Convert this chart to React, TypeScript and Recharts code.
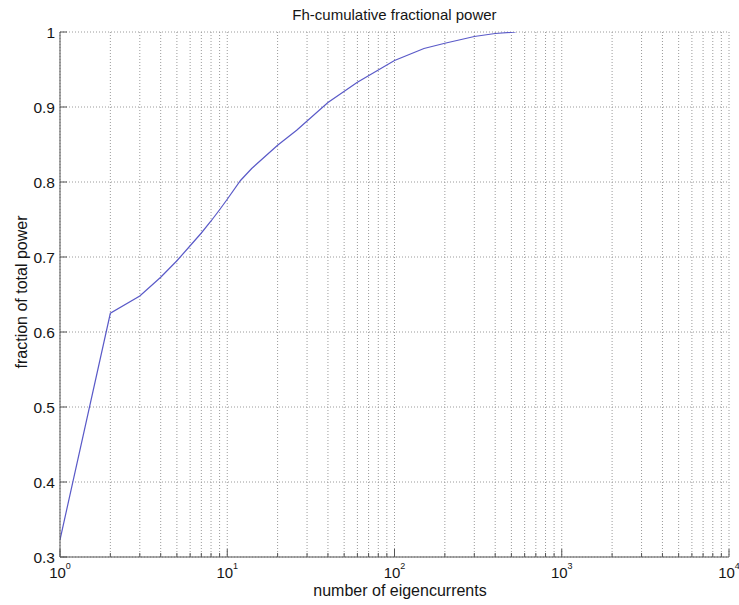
import React from 'react';
import { LineChart, Line, XAxis, YAxis, CartesianGrid } from 'recharts';

// number of eigencurrents
const counts = [1, 2, 3, 4, 5, 6, 7, 8, 9, 10, 12, 14, 20, 26, 40, 60, 100, 150, 200, 300, 400, 530];
// cumulative fraction of total power
const fractions = [0.323, 0.625, 0.648, 0.673, 0.695, 0.715, 0.732, 0.748, 0.763, 0.777, 0.802, 0.818, 0.849, 0.869, 0.906, 0.933, 0.962, 0.978, 0.985, 0.994, 0.998, 1.0];

const xTicks = [
  1, 2, 3, 4, 5, 6, 7, 8, 9,
  10, 20, 30, 40, 50, 60, 70, 80, 90,
  100, 200, 300, 400, 500, 600, 700, 800, 900,
  1000, 2000, 3000, 4000, 5000, 6000, 7000, 8000, 9000,
  10000,
];
const xMajorTicks = [1, 10, 100, 1000, 10000];
const xMajorExponents = ['0', '1', '2', '3', '4'];
const yTicks = [0.3, 0.4, 0.5, 0.6, 0.7, 0.8, 0.9, 1];
const yTickLabels = ['0.3', '0.4', '0.5', '0.6', '0.7', '0.8', '0.9', '1'];

const title = 'Fh-cumulative fractional power';
const xLabel = 'number of eigencurrents';
const yLabel = 'fraction of total power';

const data = counts.map((n, i) => ({ n, f: fractions[i] }));

const AXIS = '#555';
const GRID = '#9a9a9a';
const TEXT = '#151515';
const LINE = '#5a5ac8';
const FONT = '"Liberation Sans", Arial, Helvetica, sans-serif';

const majorIndex = (v: number) => xMajorTicks.findIndex((m) => Math.abs(m - v) < 1e-9);

const BottomTick = (props: any) => {
  const { x, y, payload } = props;
  const idx = majorIndex(payload.value);
  const major = idx >= 0;
  return (
    <g>
      <line x1={x} y1={y} x2={x} y2={y - (major ? 8 : 4)} stroke={AXIS} strokeWidth={1} />
      {major && (
        <text x={x} y={y + 21} textAnchor="middle" fontSize={15} fill={TEXT} fontFamily={FONT}>
          10
          <tspan dy={-9} fontSize={9}>{xMajorExponents[idx]}</tspan>
        </text>
      )}
    </g>
  );
};

const TopTick = (props: any) => {
  const { x, y, payload } = props;
  const major = majorIndex(payload.value) >= 0;
  return <line x1={x} y1={y} x2={x} y2={y + (major ? 8 : 4)} stroke={AXIS} strokeWidth={1} />;
};

const LeftTick = (props: any) => {
  const { x, y, payload } = props;
  const idx = yTicks.findIndex((t) => Math.abs(t - payload.value) < 1e-9);
  return (
    <g>
      <line x1={x} y1={y} x2={x + 7} y2={y} stroke={AXIS} strokeWidth={1} />
      <text x={x - 5} y={y + 5.5} textAnchor="end" fontSize={15.5} fill={TEXT} fontFamily={FONT}>
        {idx >= 0 ? yTickLabels[idx] : ''}
      </text>
    </g>
  );
};

const RightTick = (props: any) => {
  const { x, y } = props;
  return <line x1={x} y1={y} x2={x - 7} y2={y} stroke={AXIS} strokeWidth={1} />;
};

export default function App() {
  return (
    <div style={{ position: 'absolute', left: 0, top: 0, width: 739, height: 605, background: '#fff', fontFamily: FONT }}>
      <LineChart width={739} height={605} data={data} margin={{ top: 32, right: 10, bottom: 0, left: 0 }}>
        <CartesianGrid stroke={GRID} strokeDasharray="1 2" />
        <XAxis
          dataKey="n"
          type="number"
          scale="log"
          domain={[1, 10000]}
          allowDataOverflow
          ticks={xTicks}
          interval={0}
          height={48}
          tickSize={0}
          tickMargin={0}
          tickLine={false}
          axisLine={{ stroke: AXIS }}
          tick={<BottomTick />}
        />
        <XAxis
          xAxisId="top"
          orientation="top"
          type="number"
          scale="log"
          domain={[1, 10000]}
          allowDataOverflow
          ticks={xTicks}
          interval={0}
          height={0}
          tickSize={0}
          tickMargin={0}
          tickLine={false}
          axisLine={{ stroke: AXIS }}
          tick={<TopTick />}
        />
        <YAxis
          type="number"
          domain={[0.3, 1]}
          allowDataOverflow
          ticks={yTicks}
          interval={0}
          width={60}
          tickSize={0}
          tickMargin={0}
          tickLine={false}
          axisLine={{ stroke: AXIS }}
          tick={<LeftTick />}
        />
        <YAxis
          yAxisId="right"
          orientation="right"
          type="number"
          domain={[0.3, 1]}
          allowDataOverflow
          ticks={yTicks}
          interval={0}
          width={0}
          tickSize={0}
          tickMargin={0}
          tickLine={false}
          axisLine={{ stroke: AXIS }}
          tick={<RightTick />}
        />
        <Line
          type="linear"
          dataKey="f"
          stroke={LINE}
          strokeWidth={1.2}
          dot={false}
          activeDot={false}
          isAnimationActive={false}
        />
      </LineChart>
      <div
        style={{
          position: 'absolute', left: 60, width: 669, top: 6, lineHeight: '18px',
          textAlign: 'center', fontSize: 15, color: TEXT, whiteSpace: 'nowrap',
        }}
      >
        {title}
      </div>
      <div
        style={{
          position: 'absolute', left: 250, width: 300, top: 581, lineHeight: '20px',
          textAlign: 'center', fontSize: 16, color: TEXT, whiteSpace: 'nowrap',
        }}
      >
        {xLabel}
      </div>
      <div
        style={{
          position: 'absolute', left: 22 - 100, width: 200, top: 292 - 10, lineHeight: '20px',
          textAlign: 'center', fontSize: 16, color: TEXT, whiteSpace: 'nowrap',
          transform: 'rotate(-90deg)', transformOrigin: '50% 50%',
        }}
      >
        {yLabel}
      </div>
    </div>
  );
}
